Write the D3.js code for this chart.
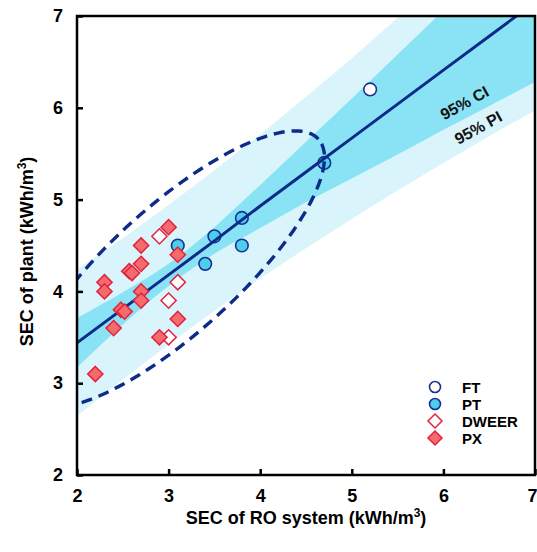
<!DOCTYPE html>
<html>
<head>
<meta charset="utf-8">
<script src="https://cdn.jsdelivr.net/npm/d3@7"></script>
<style>
  body { margin: 0; background: #fff; }
  svg { display: block; font-family: 'Liberation Sans', Arial, sans-serif; font-weight: bold; }
</style>
</head>
<body>
<svg id="chart" width="537" height="552"></svg>
<script>
// plant SEC vs RO system SEC, by energy recovery type
const ftX = [5.2]
const ftY = [6.2]
const ptX = [3.1, 3.5, 3.8, 3.8, 3.4, 4.7]
const ptY = [4.5, 4.6, 4.8, 4.5, 4.3, 5.4]
const dweerX = [2.9, 3.1, 3.0, 3.0]
const dweerY = [4.6, 4.1, 3.9, 3.5]
const pxX = [3.0, 2.7, 3.1, 2.7, 2.57, 2.6, 2.3, 2.3, 2.7, 2.7, 2.48, 2.52, 3.1, 2.4, 2.9, 2.2]
const pxY = [4.7, 4.5, 4.4, 4.3, 4.22, 4.2, 4.1, 4.0, 4.0, 3.9, 3.8, 3.78, 3.7, 3.6, 3.5, 3.1]

// fitted line with 95% confidence / prediction bands
const fitX = [2, 2.5, 3, 3.5, 4, 4.5, 5, 5.5, 6, 6.5, 7]
const fitY = [3.44, 3.81, 4.18, 4.55, 4.93, 5.30, 5.67, 6.04, 6.41, 6.78, 7.15]
const ciLow = [3.17, 3.64, 4.06, 4.41, 4.69, 4.97, 5.23, 5.49, 5.76, 6.02, 6.28]
const ciHigh = [3.71, 3.99, 4.30, 4.70, 5.16, 5.63, 6.10, 6.58, 7.06, 7.54, 8.02]
const piLow = [2.64, 3.04, 3.42, 3.79, 4.14, 4.47, 4.79, 5.10, 5.40, 5.69, 5.97]
const piHigh = [4.24, 4.58, 4.94, 5.32, 5.71, 6.12, 6.54, 6.98, 7.42, 7.87, 8.33]

// dashed ring round the low-SEC cluster (centre, semi-axes, tilt in degrees)
const ringCenter = [3.06, 4.24]
const ringAxes = [2.12, 0.69]
const ringTilt = 42

const ticks = [2, 3, 4, 5, 6, 7]

const legendItems = [
  { label: 'FT', shape: 'circle', fill: '#fff', stroke: '#1b2f8f' },
  { label: 'PT', shape: 'circle', fill: '#4ccfec', stroke: '#1b2f8f' },
  { label: 'DWEER', shape: 'diamond', fill: '#fff', stroke: '#e3223f' },
  { label: 'PX', shape: 'diamond', fill: '#f46b6d', stroke: '#e3223f' }
]

const svg = d3.select('#chart')
const margin = { top: 16, right: 2, bottom: 77, left: 77 }
const W = 537, H = 552
const x = d3.scaleLinear().domain([2, 7]).range([margin.left, W - margin.right])
const y = d3.scaleLinear().domain([2, 7]).range([H - margin.bottom, margin.top])

svg.append('clipPath').attr('id', 'plot-clip')
  .append('rect')
    .attr('x', x(2)).attr('y', y(7))
    .attr('width', x(7) - x(2)).attr('height', y(2) - y(7))

const plot = svg.append('g').attr('clip-path', 'url(#plot-clip)')

const fit = fitX.map((v, i) => ({
  x: v, y: fitY[i], ciLo: ciLow[i], ciHi: ciHigh[i], piLo: piLow[i], piHi: piHigh[i]
}))

const band = (lo, hi) => d3.area()
  .x(d => x(d.x))
  .y0(d => y(d[lo]))
  .y1(d => y(d[hi]))
  .curve(d3.curveMonotoneX)

plot.append('path').datum(fit)
  .attr('d', band('piLo', 'piHi'))
  .attr('fill', '#d9f4fb')
plot.append('path').datum(fit)
  .attr('d', band('ciLo', 'ciHi'))
  .attr('fill', '#89e3f4')

// circles sit under the fit line
const circles = [
  ...ftX.map((v, i) => ({ x: v, y: ftY[i], item: legendItems[0] })),
  ...ptX.map((v, i) => ({ x: v, y: ptY[i], item: legendItems[1] }))
]
plot.selectAll('circle.pt').data(circles).enter()
  .append('circle')
    .attr('class', 'pt')
    .attr('cx', d => x(d.x))
    .attr('cy', d => y(d.y))
    .attr('r', 6.3)
    .attr('fill', d => d.item.fill)
    .attr('stroke', d => d.item.stroke)
    .attr('stroke-width', 1.6)

plot.append('path').datum(fit)
  .attr('d', d3.line().x(d => x(d.x)).y(d => y(d.y)))
  .attr('fill', 'none')
  .attr('stroke', '#0b2a8a')
  .attr('stroke-width', 3)

// tilted ellipse traced in data space
const tilt = ringTilt * Math.PI / 180
const ring = d3.range(0, 361, 2).map(a => {
  const t = a * Math.PI / 180
  const u = ringAxes[0] * Math.cos(t), v = ringAxes[1] * Math.sin(t)
  return [ringCenter[0] + u * Math.cos(tilt) - v * Math.sin(tilt),
          ringCenter[1] + u * Math.sin(tilt) + v * Math.cos(tilt)]
})
plot.append('path').datum(ring)
  .attr('d', d3.line().x(d => x(d[0])).y(d => y(d[1])))
  .attr('fill', 'none')
  .attr('stroke', '#0d2b88')
  .attr('stroke-width', 3.4)
  .attr('stroke-dasharray', '11,7')

const diamond = s => `M0,${-s}L${s},0L0,${s}L${-s},0Z`

const diamonds = [
  ...dweerX.map((v, i) => ({ x: v, y: dweerY[i], item: legendItems[2] })),
  ...pxX.map((v, i) => ({ x: v, y: pxY[i], item: legendItems[3] }))
]
plot.selectAll('path.dm').data(diamonds).enter()
  .append('path')
    .attr('class', 'dm')
    .attr('transform', d => `translate(${x(d.x)},${y(d.y)})`)
    .attr('d', diamond(7.6))
    .attr('fill', d => d.item.fill)
    .attr('stroke', d => d.item.stroke)
    .attr('stroke-width', 1.5)

// band labels
const bandLabel = (txt, vx, vy) => svg.append('text')
  .attr('transform', `translate(${x(vx)},${y(vy)}) rotate(-29)`)
  .attr('text-anchor', 'middle')
  .attr('font-size', 16)
  .attr('fill', '#111')
  .text(txt)
bandLabel('95% CI', 6.26, 6.0)
bandLabel('95% PI', 6.41, 5.73)

// frame and axes
svg.append('rect')
  .attr('x', x(2)).attr('y', y(7))
  .attr('width', x(7) - x(2)).attr('height', y(2) - y(7))
  .attr('fill', 'none')
  .attr('stroke', '#000')
  .attr('stroke-width', 2.5)

const styleTicks = g => {
  g.select('.domain').remove()
  g.selectAll('line').attr('stroke-width', 2.5)
  g.selectAll('text').attr('font-size', 18).attr('font-weight', 'bold')
    .attr('font-family', "'Liberation Sans', Arial, sans-serif").attr('fill', '#000')
}

svg.append('g')
  .attr('transform', `translate(0,${y(2)})`)
  .call(d3.axisBottom(x).tickValues(ticks).tickSize(-6).tickPadding(14).tickFormat(d3.format('d')))
  .call(styleTicks)
  // last label sits against the right edge
  .call(g => g.selectAll('.tick').filter(d => d === 7).select('text')
    .attr('text-anchor', 'end').attr('x', 2))

svg.append('g')
  .attr('transform', `translate(${x(2)},0)`)
  .call(d3.axisLeft(y).tickValues(ticks).tickSize(-6).tickPadding(14).tickFormat(d3.format('d')))
  .call(styleTicks)

// axis titles with superscript 3
const axisTitle = (sel, main) => {
  sel.append('tspan').text(main)
  sel.append('tspan').attr('dy', -7).attr('font-size', 12).text('3')
  sel.append('tspan').attr('dy', 7).text(')')
}
svg.append('text')
  .attr('x', (x(2) + x(7)) / 2)
  .attr('y', 524)
  .attr('text-anchor', 'middle')
  .attr('font-size', 18)
  .call(s => axisTitle(s, 'SEC of RO system (kWh/m'))

svg.append('text')
  .attr('transform', `translate(33,${(y(2) + y(7)) / 2 + 6}) rotate(-90)`)
  .attr('text-anchor', 'middle')
  .attr('font-size', 18)
  .call(s => axisTitle(s, 'SEC of plant (kWh/m'))

// legend
const legend = svg.append('g').attr('transform', 'translate(435,387)')
legendItems.forEach((d, i) => {
  const row = legend.append('g').attr('transform', `translate(0,${i * 17})`)
  if (d.shape === 'circle') {
    row.append('circle').attr('r', 5.5)
      .attr('fill', d.fill).attr('stroke', d.stroke).attr('stroke-width', 1.6)
  } else {
    row.append('path').attr('d', diamond(7))
      .attr('fill', d.fill).attr('stroke', d.stroke).attr('stroke-width', 1.5)
  }
  row.append('text').attr('x', 27).attr('y', 5.5)
    .attr('font-size', 15).text(d.label)
})
</script>
</body>
</html>
